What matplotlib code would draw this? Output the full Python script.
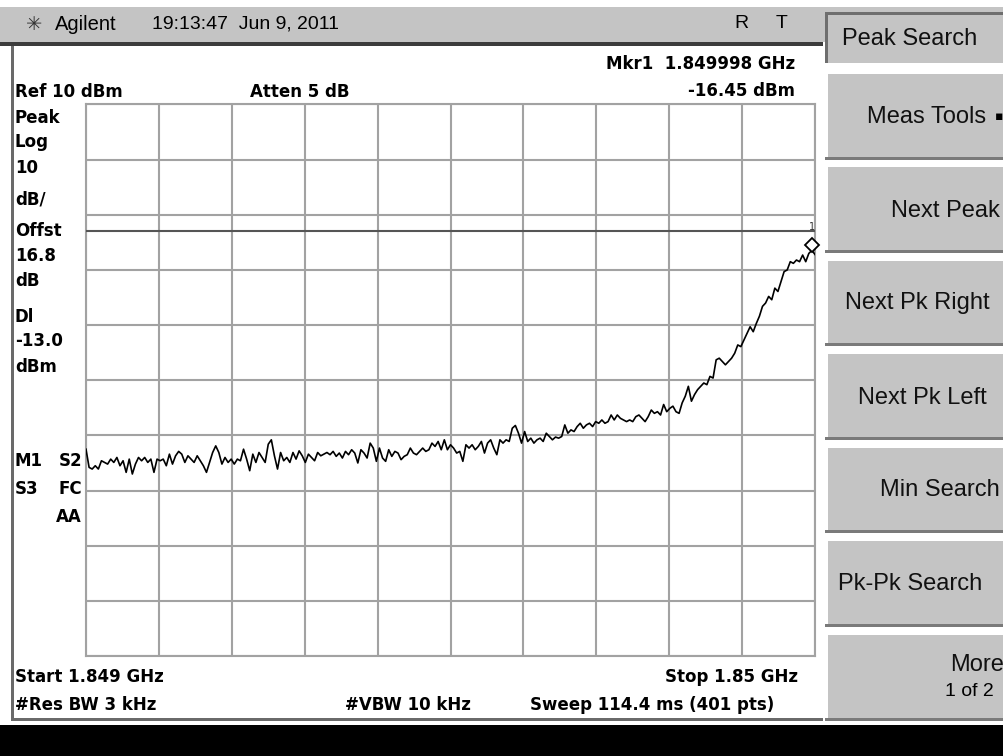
import numpy as np
import matplotlib
matplotlib.use("Agg")
import matplotlib.pyplot as plt
from matplotlib.patches import Rectangle

# analyzer settings shown on screen
start_ghz = 1.849
stop_ghz = 1.85
ref_level = 10      # dBm at top graticule line
db_per_div = 10
n_div = 10
display_line = -13.0

# trace (dBm) left to right
trace_dbm = [
    -52.5, -55.8, -56.1, -55.5, -56.1, -54.6, -54.9, -55.2, -54.3, -54.9,
    -54.0, -55.5, -54.6, -56.7, -54.3, -57.0, -55.2, -54.0, -54.6, -54.0,
    -54.9, -54.3, -56.7, -54.3, -54.6, -54.3, -55.5, -53.4, -55.2, -53.7,
    -52.9, -53.4, -54.9, -53.7, -54.3, -54.9, -53.7, -54.6, -55.5, -56.7,
    -54.9, -53.1, -51.9, -53.1, -55.2, -54.0, -54.9, -54.3, -55.2, -54.3,
    -54.6, -52.5, -54.3, -56.4, -53.4, -54.9, -53.1, -54.0, -54.9, -51.6,
    -50.8, -53.7, -56.1, -53.1, -54.6, -54.0, -54.9, -53.1, -54.3, -52.8,
    -53.7, -54.9, -53.4, -54.0, -54.6, -53.1, -53.7, -53.4, -53.1,
    -53.5, -52.9, -53.8, -53.2, -54.1, -52.9, -53.5, -52.6, -53.2, -55.0,
    -52.6, -53.2, -54.1, -51.4, -52.3, -54.7, -52.3, -54.1, -54.7, -52.6,
    -53.8, -52.9, -53.2, -54.4, -53.8, -53.5, -52.3, -53.2, -53.5, -52.9,
    -52.3, -52.9, -52.6, -51.4, -52.0, -51.1, -52.6, -50.8, -52.6, -51.7,
    -52.3, -53.2, -52.9, -54.7, -51.7, -52.3, -51.7, -52.6, -52.0, -51.1,
    -53.2, -51.4, -50.8, -52.3, -53.5, -50.8, -51.4, -50.8, -51.1, -48.7,
    -48.2, -49.6, -51.4, -49.3, -51.1, -50.5, -51.4, -50.8, -50.5, -51.1,
    -49.6, -50.2, -50.8, -50.3, -50.5, -50.2, -48.1, -49.6, -49.0, -49.3,
    -48.4, -47.8, -48.7, -48.1, -47.8, -48.4, -47.5, -47.8, -47.2, -47.8,
    -47.5, -46.3, -47.2, -46.3, -46.9, -47.2, -47.5, -47.2, -47.5, -46.6,
    -46.3, -46.9, -47.5, -46.6, -45.4, -46.0, -45.7, -46.3, -44.4, -45.7,
    -45.1, -44.7, -45.7, -46.0, -44.1, -42.9, -41.1, -43.8, -42.6, -41.7,
    -41.1, -40.5, -40.8, -39.3, -39.6, -36.3, -36.0, -36.6, -37.2, -36.6,
    -36.0, -35.1, -33.6, -33.9, -32.7, -31.5, -30.3, -31.2, -29.7, -28.4,
    -26.6, -26.0, -24.8, -25.4, -23.3, -23.9, -22.1, -20.3, -20.0, -18.5,
    -18.8, -18.2, -18.5, -17.3, -18.5, -17.0, -16.45, -17.2,
]

left_labels = ["Peak", "Log", "10", "dB/", "Offst", "16.8", "dB", "Dl", "-13.0", "dBm"]
softkeys = ["Peak Search", "Meas Tools", "Next Peak", "Next Pk Right",
            "Next Pk Left", "Min Search", "Pk-Pk Search", "More"]

W, H = 1004, 756
fig = plt.figure(figsize=(W / 100, H / 100), dpi=100)
bg = fig.add_axes([0, 0, 1, 1])
bg.set_xlim(0, W)
bg.set_ylim(H, 0)
bg.axis("off")

GRAY = "#c4c4c4"
DARK = "#6a6a6a"
bold = dict(family="DejaVu Sans", fontweight="bold", fontsize=12, color="black", va="center")
soft = dict(family="Liberation Sans", fontsize=17, color="#111111", va="center")


def box(x0, y0, x1, y1, color):
    bg.add_patch(Rectangle((x0, y0), x1 - x0, y1 - y0, facecolor=color, edgecolor="none"))


# title bar, frame and bottom message bar
box(0, 7, W, 42, GRAY)
box(0, 42, 823, 46, "#3c3c3c")
box(11, 46, 14, 721, DARK)
box(11, 718, 823, 721, DARK)
box(0, 725, W, H, "black")

bg.text(34, 24, "✳", family="DejaVu Sans", fontsize=14, color="#333333", ha="center", va="center")
bg.text(55, 24, "Agilent", family="Liberation Sans", fontsize=14.5, va="center")
bg.text(152, 24, "19:13:47  Jun 9, 2011", family="Liberation Sans", fontsize=14, va="center")
bg.text(741, 24, "R", family="Liberation Sans", fontsize=14, ha="center", va="center")
bg.text(782, 24, "T", family="Liberation Sans", fontsize=14, ha="center", va="center")

# softkey panel
key_tops = [12, 72, 165, 259, 352, 446, 539, 633]
key_bots = [63, 160, 253, 346, 440, 533, 627, 721]
for i, (t, b) in enumerate(zip(key_tops, key_bots)):
    box(825, t, W, b, GRAY)
    if i == 0:
        box(825, t, W, t + 3, "#6e6e6e")
        box(825, t, 828, b, "#6e6e6e")
    else:
        box(825, t, W, t + 2, "white")
        box(825, t, 828, b, "white")
        box(825, b - 3, W, b, "#7a7a7a")

key_pos = [(842, 39, "left"), (867, 117, "left"), (1000, 211, "right"), (845, 303, "left"),
           (922, 398, "center"), (1000, 490, "right"), (838, 584, "left"), (1004, 665, "right")]
for name, (x, y, ha) in zip(softkeys, key_pos):
    bg.text(x, y, name, ha=ha, **soft)
bg.text(1003, 117, "\u25aa", family="DejaVu Sans", fontsize=9, va="center", ha="right")
bg.text(969, 691, "1 of 2", family="Liberation Sans", fontsize=14, ha="center", va="center")

# annotations around the graticule
bg.text(15, 92, "Ref 10 dBm", **bold)
bg.text(250, 92, "Atten 5 dB", **bold)
bg.text(795, 64, "Mkr1  1.849998 GHz", ha="right", **bold)
bg.text(795, 91, "-16.45 dBm", ha="right", **bold)
label_y = [118, 142, 168, 199, 231, 256, 281, 317, 341, 367]
for s, y in zip(left_labels, label_y):
    bg.text(15, y, s, **bold)
bg.text(15, 461, "M1", **bold)
bg.text(82, 461, "S2", ha="right", **bold)
bg.text(15, 489, "S3", **bold)
bg.text(82, 489, "FC", ha="right", **bold)
bg.text(82, 517, "AA", ha="right", **bold)
bg.text(15, 677, "Start 1.849 GHz", **bold)
bg.text(798, 677, "Stop 1.85 GHz", ha="right", **bold)
bg.text(15, 705, "#Res BW 3 kHz", **bold)
bg.text(345, 705, "#VBW 10 kHz", **bold)
bg.text(530, 705, "Sweep 114.4 ms (401 pts)", **bold)

# graticule
gx0, gx1, gy0, gy1 = 86, 815, 104.5, 656
ax = fig.add_axes([gx0 / W, 1 - gy1 / H, (gx1 - gx0) / W, (gy1 - gy0) / H])
ax.set_facecolor("none")
bottom = ref_level - n_div * db_per_div
ax.set_xlim(start_ghz, stop_ghz)
ax.set_ylim(bottom, ref_level)
ax.set_xticks(np.linspace(start_ghz, stop_ghz, n_div + 1))
ax.set_yticks(np.arange(bottom, ref_level + 1, db_per_div))
ax.grid(True, color="#a2a2a2", lw=1.5)
ax.tick_params(length=0, labelbottom=False, labelleft=False)
for sp in ax.spines.values():
    sp.set_color("#a2a2a2")
    sp.set_linewidth(1.5)

freqs = np.linspace(start_ghz, stop_ghz, len(trace_dbm))
ax.axhline(display_line, color="#555555", lw=1.5, zorder=3)
ax.plot(freqs, trace_dbm, color="black", lw=1.2, zorder=4)

mk = int(np.argmax(trace_dbm))
ax.plot(freqs[mk], trace_dbm[mk] + 0.9, marker="D", ms=7, mfc="white", mec="black", mew=1.3,
        zorder=5, clip_on=False)
ax.text(freqs[mk], trace_dbm[mk] + 4.2, "1", fontsize=7, ha="center", va="center",
        family="DejaVu Sans", color="#333333", clip_on=False)

fig.savefig("out.png", dpi=100)
